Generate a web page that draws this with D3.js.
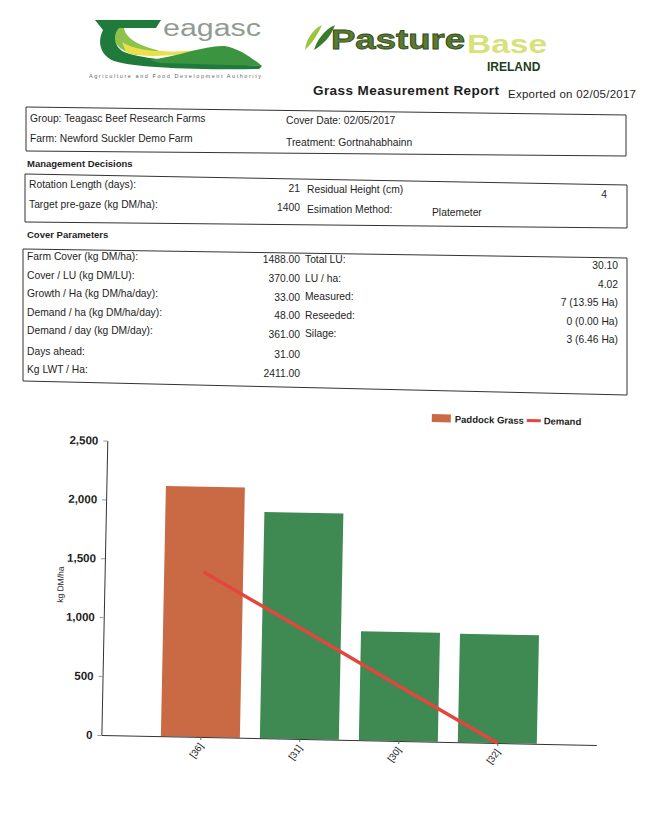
<!DOCTYPE html>
<html>
<head>
<meta charset="utf-8">
<script src="https://cdn.jsdelivr.net/npm/d3@7"></script>
<style>
body { margin: 0; background: #fff; }
svg { display: block; }
text { font-family: "Liberation Sans", Arial, sans-serif; fill: #1e1e1e; }
</style>
</head>
<body>
<script>
// paddock covers (kg DM/ha)
var paddocks = ["[36]", "[31]", "[30]", "[32]"];
var cover = [2125, 1920, 925, 920];
var demand = [1400, 935, 465, 0];
var paddockState = ["grazing", "ok", "ok", "ok"];
var yTicks = [0, 500, 1000, 1500, 2000, 2500];
var legendLabels = ["Paddock Grass", "Demand"];

// report fields
var headLeft = ["Group: Teagasc Beef Research Farms", "Farm: Newford Suckler Demo Farm"];
var headRight = ["Cover Date: 02/05/2017", "Treatment: Gortnahabhainn"];
var mgmtLabels = ["Rotation Length (days):", "Target pre-gaze (kg DM/ha):"];
var mgmtValues = ["21", "1400"];
var mgmtLabels2 = ["Residual Height (cm)", "Esimation Method:"];
var mgmtValues2 = ["4", "Platemeter"];
var coverLabels = ["Farm Cover (kg DM/ha):", "Cover / LU (kg DM/LU):", "Growth / Ha (kg DM/ha/day):",
  "Demand / ha (kg DM/ha/day):", "Demand / day (kg DM/day):", "Days ahead:", "Kg LWT / Ha:"];
var coverValues = ["1488.00", "370.00", "33.00", "48.00", "361.00", "31.00", "2411.00"];
var luLabels = ["Total LU:", "LU / ha:", "Measured:", "Reseeded:", "Silage:"];
var luValues = ["30.10", "4.02", "7 (13.95 Ha)", "0 (0.00 Ha)", "3 (6.46 Ha)"];

var W = 659, H = 816;
var colour = { grazing: "#c96a45", ok: "#3f8a53" };
var red = "#e5453c";

var svg = d3.select("body").append("svg")
    .attr("width", W)
    .attr("height", H);

// ---- logos ----
var logo = svg.append("g");
logo.append("path")   // light green inside of the swoosh
    .attr("d", "M116,28 C111,40 116,50 136,55 L180,55 C150,50 126,42 124,28 Z")
    .attr("fill", "#8dc24c");
logo.append("path")   // yellow band
    .attr("d", "M122,42 C138,52 165,53 200,50 C175,57 142,58 126,52 Z")
    .attr("fill", "#e9e14a");
logo.append("path")   // dark swoosh T
    .attr("d", "M95,20 L161,20 L156,28 L119,28 C113,34 113,46 124,52 C150,62 210,62 262,66 L259,69 C200,70 135,68 114,61 C100,55 97,42 103,30 Z")
    .attr("fill", "#1f7a3b");
logo.append("path")   // hill
    .attr("d", "M150,60 C180,56 205,45 225,46 C240,49 252,58 262,66 L160,63 Z")
    .attr("fill", "#3b9540");
logo.append("text")
    .attr("x", 163).attr("y", 36)
    .attr("font-family", "DejaVu Sans")
    .attr("font-size", 23)
    .attr("textLength", 98)
    .attr("lengthAdjust", "spacingAndGlyphs")
    .style("fill", "#8f9c91")
    .text("eagasc");
logo.append("text")
    .attr("x", 89).attr("y", 78)
    .attr("font-size", 5.5)
    .attr("textLength", 172)
    .style("fill", "#666")
    .text("Agriculture and Food Development Authority");

logo.append("path")
    .attr("d", "M305,50 C306,40 312,30 322,25 C318,34 313,42 305,50 Z")
    .attr("fill", "#9cc43c");
logo.append("path")
    .attr("d", "M314,50 C317,40 324,30 335,25 C331,36 324,44 314,50 Z")
    .attr("fill", "#3a7a2c");
logo.append("text")
    .attr("x", 331).attr("y", 49)
    .attr("font-family", "DejaVu Sans")
    .attr("font-weight", "bold")
    .attr("font-size", 27)
    .attr("textLength", 134)
    .attr("lengthAdjust", "spacingAndGlyphs")
    .style("fill", "#5b7a30").style("stroke", "#2f4a1c").style("stroke-width", 0.8)
    .text("Pasture");
logo.append("text")
    .attr("x", 467).attr("y", 53)
    .attr("font-family", "DejaVu Sans")
    .attr("font-weight", "bold")
    .attr("font-size", 26)
    .attr("textLength", 80)
    .attr("lengthAdjust", "spacingAndGlyphs")
    .style("fill", "#d8e27a")
    .text("Base");
logo.append("text")
    .attr("x", 487).attr("y", 71)
    .attr("font-weight", "bold")
    .attr("font-size", 12)
    .style("fill", "#243c1a")
    .text("IRELAND");

svg.append("text")
    .attr("x", 313).attr("y", 95)
    .attr("font-weight", "bold")
    .attr("font-size", 13.5)
    .attr("textLength", 186)
    .text("Grass Measurement Report");
svg.append("text")
    .attr("x", 508).attr("y", 98)
    .attr("font-size", 11.5)
    .attr("textLength", 128)
    .text("Exported on 02/05/2017");

// ---- report boxes (scan is a little skewed, so corners are given directly) ----
function box(pts) {
  svg.append("path")
      .attr("d", d3.line()(pts) + "Z")
      .attr("fill", "none")
      .attr("stroke", "#333")
      .attr("stroke-width", 1);
}
box([[26, 107], [626, 115], [626, 156], [26, 151]]);
box([[25, 174], [627, 185], [627, 228], [25, 222]]);
box([[23, 249], [627, 258], [627, 395], [23, 381]]);

var fs = 10.3;
headLeft.forEach(function(t, i) {
  svg.append("text").attr("x", 30).attr("y", 122 + i * 20).attr("font-size", fs).text(t);
});
headRight.forEach(function(t, i) {
  svg.append("text").attr("x", 286).attr("y", 124 + i * 22).attr("font-size", fs).text(t);
});

svg.append("text").attr("x", 27).attr("y", 167).attr("font-size", 9.5).attr("font-weight", "bold").text("Management Decisions");
mgmtLabels.forEach(function(t, i) {
  svg.append("text").attr("x", 29).attr("y", 188 + i * 20).attr("font-size", fs).text(t);
  svg.append("text").attr("x", 300).attr("y", 192 + i * 19).attr("font-size", fs)
      .attr("text-anchor", "end").text(mgmtValues[i]);
  svg.append("text").attr("x", 307).attr("y", 193 + i * 20).attr("font-size", fs).text(mgmtLabels2[i]);
});
svg.append("text").attr("x", 607).attr("y", 198).attr("font-size", fs).attr("text-anchor", "end").text(mgmtValues2[0]);
svg.append("text").attr("x", 432).attr("y", 216).attr("font-size", fs).text(mgmtValues2[1]);

svg.append("text").attr("x", 27).attr("y", 238).attr("font-size", 9.5).attr("font-weight", "bold").text("Cover Parameters");
coverLabels.forEach(function(t, i) {
  svg.append("text").attr("x", 27).attr("y", 260 + i * 18.5 + (i > 4 ? 2 : 0)).attr("font-size", fs).text(t);
  svg.append("text").attr("x", 300).attr("y", 263 + i * 18.8 + (i > 4 ? 1 : 0)).attr("font-size", fs)
      .attr("text-anchor", "end").text(coverValues[i]);
});
luLabels.forEach(function(t, i) {
  svg.append("text").attr("x", 305).attr("y", 263 + i * 18.5).attr("font-size", fs).text(t);
  svg.append("text").attr("x", 618).attr("y", 269 + i * 18.5).attr("font-size", fs)
      .attr("text-anchor", "end").text(luValues[i]);
});

// ---- chart ----
var chart = svg.append("g").attr("transform", "rotate(1.15,330,408)");

var x = d3.scalePoint().domain(paddocks).range([108, 603]).padding(1);
var y = d3.scaleLinear().domain([0, 2500]).range([739.5, 445]);
var bw = 79;

chart.selectAll("rect.bar")
  .data(cover)
  .join("rect")
    .attr("class", "bar")
    .attr("x", function(d, i) { return x(paddocks[i]) - bw / 2; })
    .attr("y", function(d) { return y(d); })
    .attr("width", bw)
    .attr("height", function(d) { return y(0) - y(d); })
    .attr("fill", function(d, i) { return colour[paddockState[i]]; });

var yAxis = chart.append("g")
    .attr("transform", "translate(108,0)")
    .call(d3.axisLeft(y).tickValues(yTicks).tickFormat(d3.format(",")).tickSize(4).tickSizeOuter(0).tickPadding(5));
yAxis.select(".domain").attr("stroke", "#333");
yAxis.selectAll(".tick line").attr("stroke", "#999");
yAxis.selectAll(".tick text")
    .attr("font-family", "Liberation Sans, Arial, sans-serif")
    .attr("font-size", 11.5)
    .attr("font-weight", "bold")
    .style("fill", "#222");

var xAxis = chart.append("g")
    .attr("transform", "translate(0," + y(0) + ")")
    .call(d3.axisBottom(x).tickSize(3).tickSizeOuter(0));
xAxis.select(".domain").attr("stroke", "#333");
xAxis.selectAll(".tick line").attr("stroke", "#666");
xAxis.selectAll(".tick text")
    .attr("font-family", "Liberation Sans, Arial, sans-serif")
    .attr("font-size", 9.5)
    .attr("text-anchor", "end")
    .attr("x", 0).attr("y", 0).attr("dy", 0)
    .attr("transform", "translate(3,9) rotate(-55)")
    .style("fill", "#222");

chart.append("path")
    .datum(demand)
    .attr("fill", "none")
    .attr("stroke", red)
    .attr("stroke-width", 3.5)
    .attr("d", d3.line()
      .x(function(d, i) { return x(paddocks[i]); })
      .y(function(d) { return y(d); }));

chart.append("text")
    .attr("transform", "translate(67,590) rotate(-90)")
    .attr("text-anchor", "middle")
    .attr("font-size", 8.5)
    .text("kg DM/ha");

// legend
var lg = chart.append("g");
lg.append("rect").attr("x", 432).attr("y", 412).attr("width", 19).attr("height", 8).attr("fill", colour.grazing);
lg.append("text").attr("x", 455).attr("y", 420).attr("font-size", 9.5).attr("font-weight", "bold").text(legendLabels[0]);
lg.append("line").attr("x1", 527).attr("x2", 541).attr("y1", 416.5).attr("y2", 416.5)
    .attr("stroke", red).attr("stroke-width", 3);
lg.append("text").attr("x", 544).attr("y", 420).attr("font-size", 9.5).attr("font-weight", "bold").text(legendLabels[1]);
</script>
</body>
</html>
